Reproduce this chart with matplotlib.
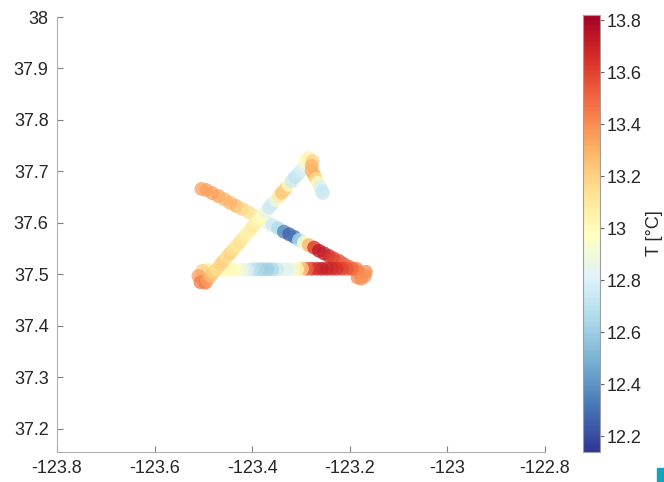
import matplotlib
matplotlib.use("Agg")
import matplotlib.pyplot as plt
from matplotlib.ticker import FuncFormatter
from matplotlib.patches import Rectangle
from matplotlib.cm import ScalarMappable
from matplotlib.colors import Normalize

plt.rcParams['font.family'] = ['Liberation Sans', 'DejaVu Sans']
plt.rcParams['axes.unicode_minus'] = False

# ship track: longitude, latitude, temperature [degC]
lon = [-123.504, -123.494, -123.482, -123.469, -123.457, -123.445, -123.433, -123.420,
       -123.408, -123.396, -123.384, -123.371, -123.359, -123.347, -123.335, -123.324,
       -123.314, -123.304, -123.294, -123.284, -123.273, -123.263, -123.253, -123.243,
       -123.233, -123.222, -123.212, -123.202, -123.192, -123.182,
       -123.184, -123.176, -123.169, -123.167,
       -123.186, -123.196, -123.206, -123.216, -123.227, -123.237, -123.247, -123.257,
       -123.267, -123.278, -123.288, -123.298, -123.308, -123.318, -123.329, -123.339,
       -123.349, -123.359, -123.369, -123.380, -123.390, -123.400, -123.410, -123.420,
       -123.431, -123.441, -123.451, -123.461, -123.471, -123.482, -123.492,
       -123.502, -123.510, -123.506, -123.496,
       -123.492, -123.485, -123.479, -123.472, -123.465, -123.459, -123.452, -123.445,
       -123.439, -123.432, -123.425, -123.419, -123.412, -123.405, -123.399, -123.392,
       -123.385, -123.379, -123.372, -123.365, -123.359, -123.352, -123.345, -123.339,
       -123.332, -123.325, -123.319, -123.312, -123.305, -123.299, -123.292,
       -123.292, -123.284, -123.276, -123.278,
       -123.278, -123.273, -123.269, -123.265, -123.261, -123.257, -123.255]
lat = [37.666, 37.664, 37.658, 37.652, 37.646, 37.639, 37.633, 37.627,
       37.621, 37.614, 37.608, 37.602, 37.596, 37.590, 37.583, 37.578,
       37.573, 37.567, 37.562, 37.557, 37.552, 37.546, 37.541, 37.536,
       37.531, 37.526, 37.520, 37.515, 37.510, 37.505,
       37.494, 37.492, 37.497, 37.505,
       37.511, 37.511, 37.511, 37.511, 37.511, 37.511, 37.511, 37.511,
       37.511, 37.511, 37.511, 37.511, 37.510, 37.510, 37.510, 37.510,
       37.510, 37.510, 37.510, 37.510, 37.510, 37.510, 37.509, 37.509,
       37.509, 37.509, 37.509, 37.509, 37.509, 37.509, 37.509,
       37.507, 37.497, 37.485, 37.484,
       37.489, 37.497, 37.504, 37.511, 37.519, 37.526, 37.534, 37.541,
       37.548, 37.556, 37.563, 37.570, 37.578, 37.585, 37.593, 37.600,
       37.607, 37.615, 37.622, 37.630, 37.637, 37.644, 37.652, 37.659,
       37.666, 37.674, 37.681, 37.689, 37.696, 37.703, 37.711,
       37.720, 37.726, 37.720, 37.711,
       37.701, 37.693, 37.685, 37.678, 37.670, 37.662, 37.658]
temp = [13.35, 13.35, 13.35, 13.35, 13.30, 13.30, 13.30, 13.20,
        13.15, 13.10, 13.00, 12.85, 12.75, 12.65, 12.35, 12.25,
        12.30, 12.65, 12.95, 13.30, 13.65, 13.75, 13.72, 13.68,
        13.62, 13.58, 13.52, 13.48, 13.42, 13.40,
        13.40, 13.40, 13.38, 13.40,
        13.42, 13.50, 13.55, 13.60, 13.65, 13.68, 13.70, 13.72,
        13.70, 13.65, 13.50, 13.20, 13.00, 12.90, 12.80, 12.85,
        12.75, 12.65, 12.60, 12.60, 12.65, 12.70, 12.80, 12.90,
        12.95, 13.00, 13.00, 13.00, 12.95, 13.00, 13.05,
        13.20, 13.35, 13.45, 13.45,
        13.35, 13.25, 13.20, 13.15, 13.20, 13.20, 13.15, 13.20,
        13.15, 13.10, 13.15, 13.10, 13.05, 13.05, 13.10, 13.05,
        13.00, 12.95, 12.85, 12.75, 12.75, 12.90, 13.10, 13.25,
        13.20, 12.95, 12.75, 12.70, 12.75, 12.80, 12.85,
        12.95, 13.05, 13.20, 13.30,
        13.30, 13.30, 13.15, 12.95, 12.80, 12.75, 12.75]

xticks = [-123.8, -123.6, -123.4, -123.2, -123.0, -122.8]
yticks = [37.2, 37.3, 37.4, 37.5, 37.6, 37.7, 37.8, 37.9, 38.0]
cticks = [12.2, 12.4, 12.6, 12.8, 13.0, 13.2, 13.4, 13.6, 13.8]
tmin, tmax = 12.14, 13.82

fig = plt.figure(figsize=(6.64, 4.82), dpi=100)
ax = fig.add_axes([0.0858, 0.0622, 0.7349, 0.9025])
cax = fig.add_axes([0.878, 0.0622, 0.0256, 0.9066])

ax.scatter(lon, lat, c=temp, cmap='RdYlBu_r', vmin=tmin, vmax=tmax,
           s=100, alpha=0.75, edgecolors='none')

fmt = FuncFormatter(lambda v, p: '%g' % round(v, 2))
ax.set_xlim(-123.8, -122.8)
ax.set_ylim(37.155, 38.0)
ax.set_xticks(xticks)
ax.set_yticks(yticks)
ax.xaxis.set_major_formatter(fmt)
ax.yaxis.set_major_formatter(fmt)
for side in ['top', 'right']:
    ax.spines[side].set_visible(False)
for side in ['left', 'bottom']:
    ax.spines[side].set_color('#b0b0b0')
ax.tick_params(direction='in', length=4, color='#808080', labelsize=13,
               labelcolor='#262626', pad=6)

sm = ScalarMappable(norm=Normalize(tmin, tmax), cmap='RdYlBu_r')
cb = fig.colorbar(sm, cax=cax, ticks=cticks)
cb.ax.yaxis.set_major_formatter(fmt)
cb.outline.set_edgecolor('#a0a0a0')
cb.outline.set_linewidth(0.8)
cb.ax.tick_params(direction='out', length=3, color='#606060', labelsize=13,
                  labelcolor='#262626', pad=2)
cb.set_label('T [°C]', fontsize=13, color='#262626', labelpad=3)

fig.patches.append(Rectangle((0.9895, 0.0), 0.0105, 0.029, transform=fig.transFigure,
                             color='#14a5b8', zorder=5))

fig.savefig('out.png', dpi=100)
